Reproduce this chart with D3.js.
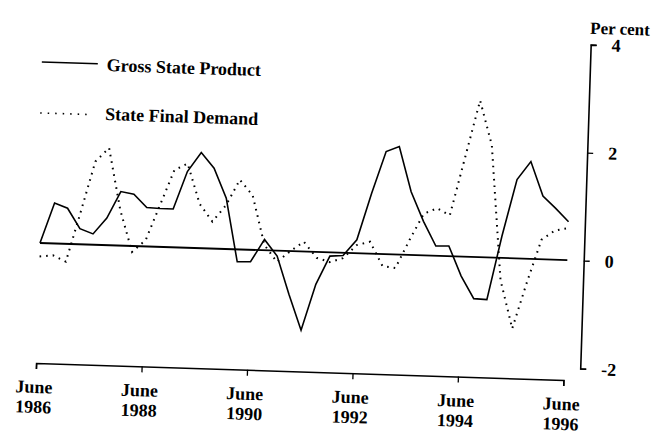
<!DOCTYPE html>
<html>
<head>
<meta charset="utf-8">
<script src="https://cdn.jsdelivr.net/npm/d3@7"></script>
<style>
  body { margin: 0; background: #fff; }
  text { font-family: "Liberation Serif", "DejaVu Serif", serif; fill: #000; }
</style>
</head>
<body>
<svg class="svg-main" width="658" height="435"></svg>
<script>
// quarterly, June 1986 .. June 1996 (41 quarters)
const startQuarter = new Date(1986, 5, 1);
const gsp = [0.0, 0.75, 0.66, 0.29, 0.2, 0.5, 1.0, 0.96, 0.72, 0.71,
  0.71, 1.41, 1.77, 1.49, 0.94, -0.23, -0.22, 0.2, -0.1, -0.8,
  -1.46, -0.6, -0.07, -0.05, 0.25, 1.12, 1.9, 2.0, 1.17, 0.63,
  0.18, 0.19, -0.36, -0.77, -0.78, 0.4, 1.46, 1.8, 1.17, 0.95, 0.71];
const sfd = [-0.25, -0.22, -0.33, 0.58, 1.54, 1.8, 0.66, -0.11, 0.12, 0.78,
  1.43, 1.56, 0.82, 0.5, 0.81, 1.29, 1.01, 0.1, -0.21, 0.0,
  0.18, -0.11, -0.18, -0.1, 0.15, 0.22, -0.22, -0.25, 0.28, 0.77,
  0.88, 0.76, 1.83, 2.9, 2.08, -0.41, -1.3, -0.43, 0.36, 0.54, 0.59];
const seriesNames = ["Gross State Product", "State Final Demand"];
const yTicks = [-2, 0, 2, 4];
const xTickYears = [1986, 1988, 1990, 1992, 1994, 1996];

const svg = d3.select(".svg-main");
// the page was scanned slightly crooked
const g = svg.append("g").attr("transform", "rotate(1.85, 40, 243)");

const dates = gsp.map((d, i) => d3.timeMonth.offset(startQuarter, i * 3));
const x = d3.scaleTime()
  .domain([startQuarter, dates[dates.length - 1]])
  .range([40, 567.6]);
const y = d3.scaleLinear().domain([-2, 4]).range([351, 27]);
const xAxisY = 363;
const yAxisX = 584;

// zero line
g.append("line")
  .attr("x1", x.range()[0]).attr("x2", x.range()[1])
  .attr("y1", y(0)).attr("y2", y(0))
  .attr("stroke", "#000").attr("stroke-width", 1.8);

const line = d3.line()
  .x((d, i) => x(dates[i]))
  .y(d => y(d));

g.append("path")
  .datum(sfd)
  .attr("d", line)
  .attr("fill", "none")
  .attr("stroke", "#000")
  .attr("stroke-width", 2)
  .attr("stroke-dasharray", "1.6,5");

g.append("path")
  .datum(gsp)
  .attr("d", line)
  .attr("fill", "none")
  .attr("stroke", "#000")
  .attr("stroke-width", 1.6)
  .attr("stroke-linejoin", "miter");

// x axis
const xAxis = g.append("g")
  .attr("transform", `translate(0,${xAxisY})`)
  .call(d3.axisBottom(x)
    .tickValues(xTickYears.map(yr => new Date(yr, 5, 1)))
    .tickSize(6)
    .tickSizeOuter(6)
    .tickFormat(""));
xAxis.select(".domain").attr("stroke-width", 1.6);
xAxis.selectAll(".tick line").attr("stroke-width", 1.3);
xAxis.selectAll(".tick").each(function(d) {
  const t = d3.select(this).append("text")
    .attr("text-anchor", "middle")
    .style("font-size", "18px")
    .style("font-weight", "bold");
  t.append("tspan").attr("x", -2).attr("y", 30).text("June");
  t.append("tspan").attr("x", -2).attr("y", 50).text(d.getFullYear());
});

// right axis
const yAxis = g.append("g")
  .attr("transform", `translate(${yAxisX},0)`)
  .call(d3.axisRight(y)
    .tickValues(yTicks)
    .tickSize(6)
    .tickSizeOuter(6)
    .tickPadding(15)
    .tickFormat(d => String(d)));
yAxis.select(".domain").attr("stroke-width", 1.6);
yAxis.selectAll(".tick line").attr("stroke-width", 1.3);
yAxis.selectAll(".tick text")
  .attr("fill", "#000")
  .style("font-size", "18px")
  .style("font-weight", "bold")
  .style("font-family", '"Liberation Serif", serif');

g.append("text")
  .attr("x", 583).attr("y", 16)
  .style("font-size", "17px")
  .style("font-weight", "bold")
  .text("Per cent");

// legend
const legend = g.append("g");
legend.append("line")
  .attr("x1", 36).attr("x2", 92).attr("y1", 62).attr("y2", 62)
  .attr("stroke", "#000").attr("stroke-width", 1.6);
legend.append("line")
  .attr("x1", 36).attr("x2", 86).attr("y1", 113).attr("y2", 113)
  .attr("stroke", "#000").attr("stroke-width", 1.6)
  .attr("stroke-dasharray", "1.5,6");
legend.selectAll("text.label")
  .data(seriesNames)
  .enter().append("text")
  .classed("label", true)
  .attr("x", 101)
  .attr("y", (d, i) => 69 + i * 49)
  .style("font-size", "18px")
  .style("font-weight", "bold")
  .text(d => d);
</script>
</body>
</html>
